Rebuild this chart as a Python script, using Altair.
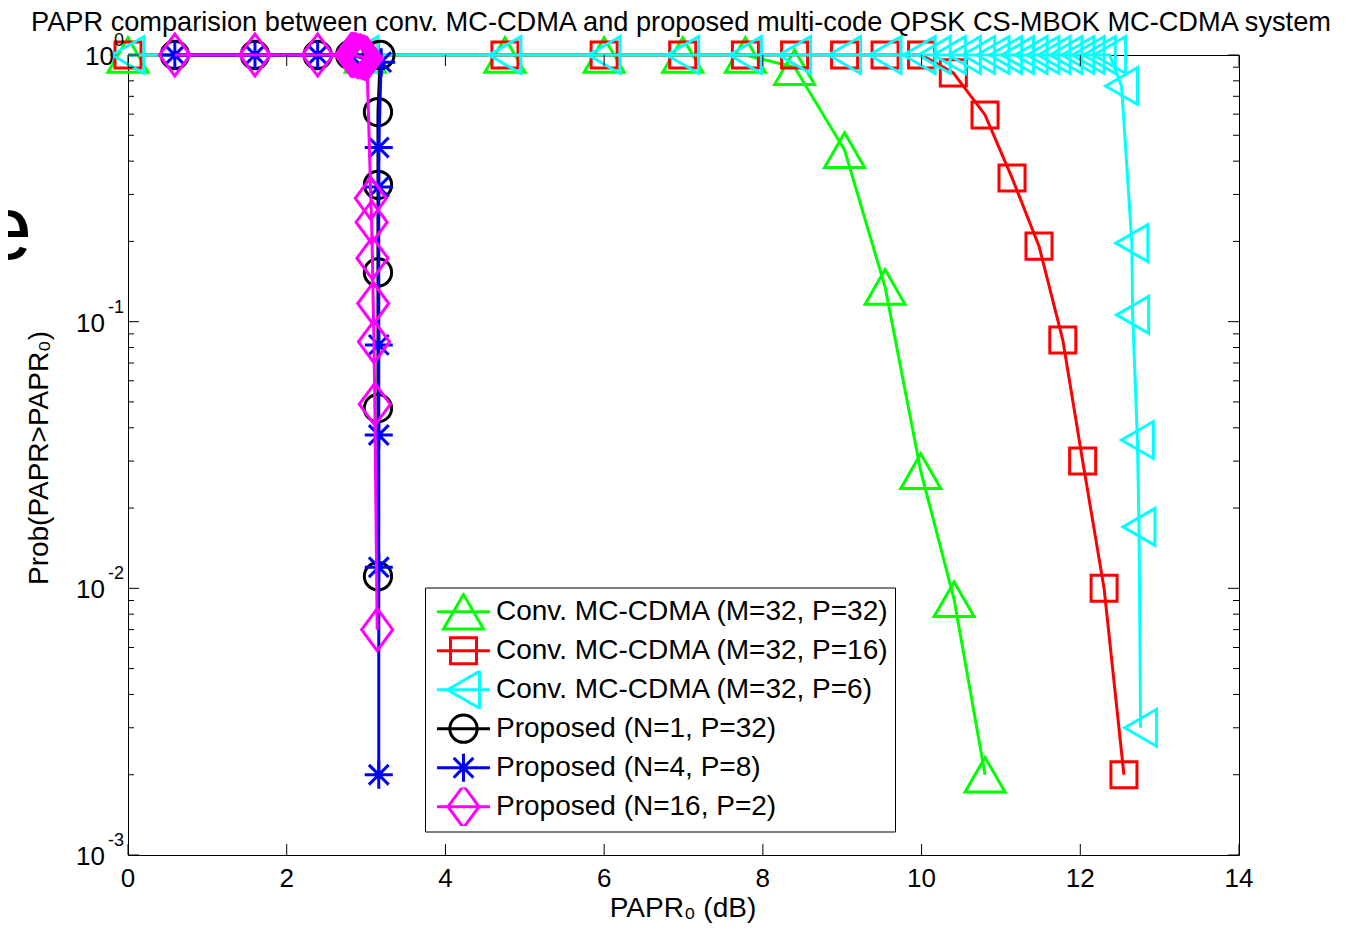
import altair as alt
import pandas as pd

FONT = "Liberation Sans"

names = [
    "Conv. MC-CDMA (M=32, P=32)",
    "Conv. MC-CDMA (M=32, P=16)",
    "Conv. MC-CDMA (M=32, P=6)",
    "Proposed (N=1, P=32)",
    "Proposed (N=4, P=8)",
    "Proposed (N=16, P=2)",
]
colors = ["#00ff00", "#ff0000", "#00ffff", "#000000", "#0000ff", "#ff00ff"]

green_x = [0, 2.99, 4.75, 6.0, 6.99, 7.78, 8.40, 9.03, 9.54, 9.99, 10.41, 10.80]
green_y = [1, 1, 1, 1, 1, 1, 0.90, 0.44, 0.135, 0.0275, 0.0091, 0.002]

red_x = [0, 2.99, 4.75, 6.0, 6.99, 7.78, 8.40, 9.03, 9.54, 10.00, 10.40, 10.80,
         11.14, 11.48, 11.78, 12.03, 12.30, 12.55]
red_y = [1, 1, 1, 1, 1, 1, 1, 1, 1, 1, 0.857, 0.596,
         0.346, 0.192, 0.0853, 0.030, 0.010, 0.002]

cyan_x = [0, 2.95, 4.75, 6.0, 6.99, 7.78, 8.40, 9.03, 9.54, 9.97,
          10.16, 10.35, 10.54, 10.72, 10.90, 11.06, 11.21, 11.38, 11.53, 11.67,
          11.82, 11.97, 12.10, 12.24, 12.37, 12.52, 12.65, 12.66, 12.72, 12.74, 12.76]
cyan_y = [1, 1, 1, 1, 1, 1, 1, 1, 1, 1,
          1, 1, 1, 1, 1, 1, 1, 1, 1, 1,
          1, 1, 1, 1, 1, 0.765, 0.197, 0.106, 0.036, 0.017, 0.003]

black_x = [0.59, 1.60, 2.39, 2.80, 3.18, 3.15, 3.15, 3.15, 3.15, 3.15]
black_y = [1, 1, 1, 1, 1, 0.611, 0.326, 0.153, 0.0474, 0.0111]

blue_x = [0.59, 1.60, 2.39, 2.80, 3.19, 3.16, 3.16, 3.16, 3.16, 3.16, 3.16]
blue_y = [1, 1, 1, 1, 0.94, 0.45, 0.32, 0.0818, 0.0376, 0.012, 0.002]

magenta_x = [0.59, 1.60, 2.39, 2.81, 2.83, 2.85, 2.87, 2.89, 2.91, 2.93, 2.95,
             2.97, 2.99, 3.01, 3.06, 3.07, 3.08, 3.09, 3.10, 3.11, 3.14]
magenta_y = [1, 1, 1, 1, 1, 1, 1, 0.99, 0.99, 0.99, 0.98,
             0.98, 0.97, 0.97, 0.29, 0.236, 0.173, 0.117, 0.084, 0.049, 0.007]

series_x = [green_x, red_x, cyan_x, black_x, blue_x, magenta_x]
series_y = [green_y, red_y, cyan_y, black_y, blue_y, magenta_y]

x_ticks = [0, 2, 4, 6, 8, 10, 12, 14]
x_labels = ["0", "2", "4", "6", "8", "10", "12", "14"]
y_major = [1, 0.1, 0.01, 0.001]
y_exp = ["0", "-1", "-2", "-3"]
y_minor = [m * d for d in (0.001, 0.01, 0.1) for m in range(2, 10)]

title_text = ("PAPR comparision between conv. MC-CDMA and proposed multi-code "
              "QPSK CS-MBOK MC-CDMA system")
x_title = "PAPR\u2080 (dB)"
y_title = "Prob(PAPR>PAPR\u2080)"

# marker outlines (unit = sqrt(size)/2 px)
tri_up = "M0,-0.825L0.952,0.825L-0.952,0.825Z"
square = "M-0.62,-0.62L0.62,-0.62L0.62,0.62L-0.62,0.62Z"
tri_left = "M-0.76,0L0.76,-0.88L0.76,0.88Z"
circle = "M0.65,0A0.65,0.65,0,1,1,-0.65,0A0.65,0.65,0,1,1,0.65,0Z"
star = ("M0,-0.667L0,0.667M-0.667,0L0.667,0"
        "M-0.47,-0.47L0.47,0.47M-0.47,0.47L0.47,-0.47")
diamond = "M0,-1L0.74,0L0,1L-0.74,0Z"
seg = "M-1.26,0L1.26,0"
markers = [tri_up, square, tri_left, circle, star, diamond]
legend_shapes = [seg + m for m in markers]
MSIZE = 1764

W, H = 1111, 800
xscale = alt.Scale(domain=[0, 14], nice=False, zero=False)
yscale = alt.Scale(type="log", domain=[0.001, 1], nice=False)

layers = []

for name, col, mk, xs, ys in zip(names, colors, markers, series_x, series_y):
    d = pd.DataFrame({"papr": xs, "prob": ys, "idx": list(range(len(xs)))})
    xe = alt.X("papr:Q", scale=xscale, axis=None, title=x_title)
    ye = alt.Y("prob:Q", scale=yscale, axis=None, title=y_title)
    layers.append(alt.Chart(d).mark_line(color=col, strokeWidth=3).encode(
        x=xe, y=ye, order="idx:Q"))
    layers.append(alt.Chart(d).mark_point(
        shape=mk, size=MSIZE, filled=False, strokeWidth=3, color=col, opacity=1
    ).encode(x=xe, y=ye))

# inward ticks
xt = pd.DataFrame({"v": x_ticks})
for y0, y1 in ((H, H - 11), (0, 11)):
    layers.append(alt.Chart(xt).mark_rule(color="black", strokeWidth=1).encode(
        x=alt.X("v:Q", scale=xscale, axis=None),
        y=alt.value(y0), y2=alt.value(y1)))
ytm = pd.DataFrame({"v": y_major})
ytn = pd.DataFrame({"v": y_minor})
for dfv, ln in ((ytm, 11), (ytn, 6)):
    for x0, x1 in ((0, ln), (W, W - ln)):
        layers.append(alt.Chart(dfv).mark_rule(color="black", strokeWidth=1).encode(
            y=alt.Y("v:Q", scale=yscale, axis=None),
            x=alt.value(x0), x2=alt.value(x1)))

# x tick labels
xl = pd.DataFrame({"v": x_ticks, "t": x_labels})
layers.append(alt.Chart(xl).mark_text(
    align="center", baseline="alphabetic", font=FONT, fontSize=26,
    color="black").encode(
    x=alt.X("v:Q", scale=xscale, axis=None), y=alt.value(H + 32), text="t:N"))

# y tick labels 10^k
yl = pd.DataFrame({"v": y_major, "e": y_exp})
layers.append(alt.Chart(yl).mark_text(
    align="right", baseline="alphabetic", font=FONT, fontSize=18,
    color="black", dy=-9).encode(
    x=alt.value(-4), y=alt.Y("v:Q", scale=yscale, axis=None), text="e:N"))
for cond, xpos in (("length(datum.e) == 1", -14), ("length(datum.e) > 1", -23)):
    layers.append(alt.Chart(yl).transform_filter(cond).mark_text(
        align="right", baseline="alphabetic", font=FONT, fontSize=26,
        color="black", dy=10).encode(
        x=alt.value(xpos),
        y=alt.Y("v:Q", scale=yscale, axis=None), text=alt.value("10")))

# axis titles and chart title
one = pd.DataFrame({"k": [0]})
layers.append(alt.Chart(one).mark_text(
    align="center", baseline="alphabetic", font=FONT, fontSize=28,
    color="black").encode(x=alt.value(555), y=alt.value(H + 62),
                          text=alt.value(x_title)))
layers.append(alt.Chart(one).mark_text(
    align="center", baseline="alphabetic", font=FONT, fontSize=28,
    color="black", angle=270).encode(x=alt.value(-80), y=alt.value(403),
                                     text=alt.value(y_title)))
layers.append(alt.Chart(one).mark_text(
    align="center", baseline="alphabetic", font=FONT, fontSize=27.2,
    color="black").encode(x=alt.value(553), y=alt.value(-24),
                          text=alt.value(title_text)))

# stray glyph at the left edge of the original
layers.append(alt.Chart(pd.DataFrame({"t": ["e"]})).mark_text(
    align="left", baseline="alphabetic", font=FONT, fontSize=90, color="black"
).encode(x=alt.value(-146), y=alt.value(204), text="t:N"))

# legend carrier (points lie outside the domain and are clipped)
leg = pd.DataFrame({"series": names, "papr": [-5] * 6, "prob": [0.5] * 6})
legend_kw = dict(title=None, orient="none", legendX=297, legendY=532.5,
                 padding=5, strokeColor="black", fillColor="white",
                 labelFont=FONT, labelFontSize=28, labelColor="black",
                 labelLimit=800, symbolSize=MSIZE, symbolStrokeWidth=3,
                 symbolOffset=11, labelOffset=10, rowPadding=0,
                 clipHeight=38.4, gridAlign="all")
layers.append(alt.Chart(leg).mark_point(
    size=MSIZE, filled=False, strokeWidth=3, clip=True, opacity=1).encode(
    x=alt.X("papr:Q", scale=xscale, axis=None),
    y=alt.Y("prob:Q", scale=yscale, axis=None),
    color=alt.Color("series:N", scale=alt.Scale(domain=names, range=colors),
                    legend=alt.Legend(**legend_kw)),
    shape=alt.Shape("series:N", scale=alt.Scale(domain=names, range=legend_shapes),
                    legend=alt.Legend(**legend_kw))))

chart = alt.layer(*layers).properties(
    width=W, height=H,
    autosize=alt.AutoSizeParams(type="none"),
    padding={"left": 120, "top": 47, "right": 108, "bottom": 70},
    background="white",
).configure_view(stroke="black", strokeWidth=1)

chart.save("out.html", embed_options={"renderer": "svg", "actions": False})
